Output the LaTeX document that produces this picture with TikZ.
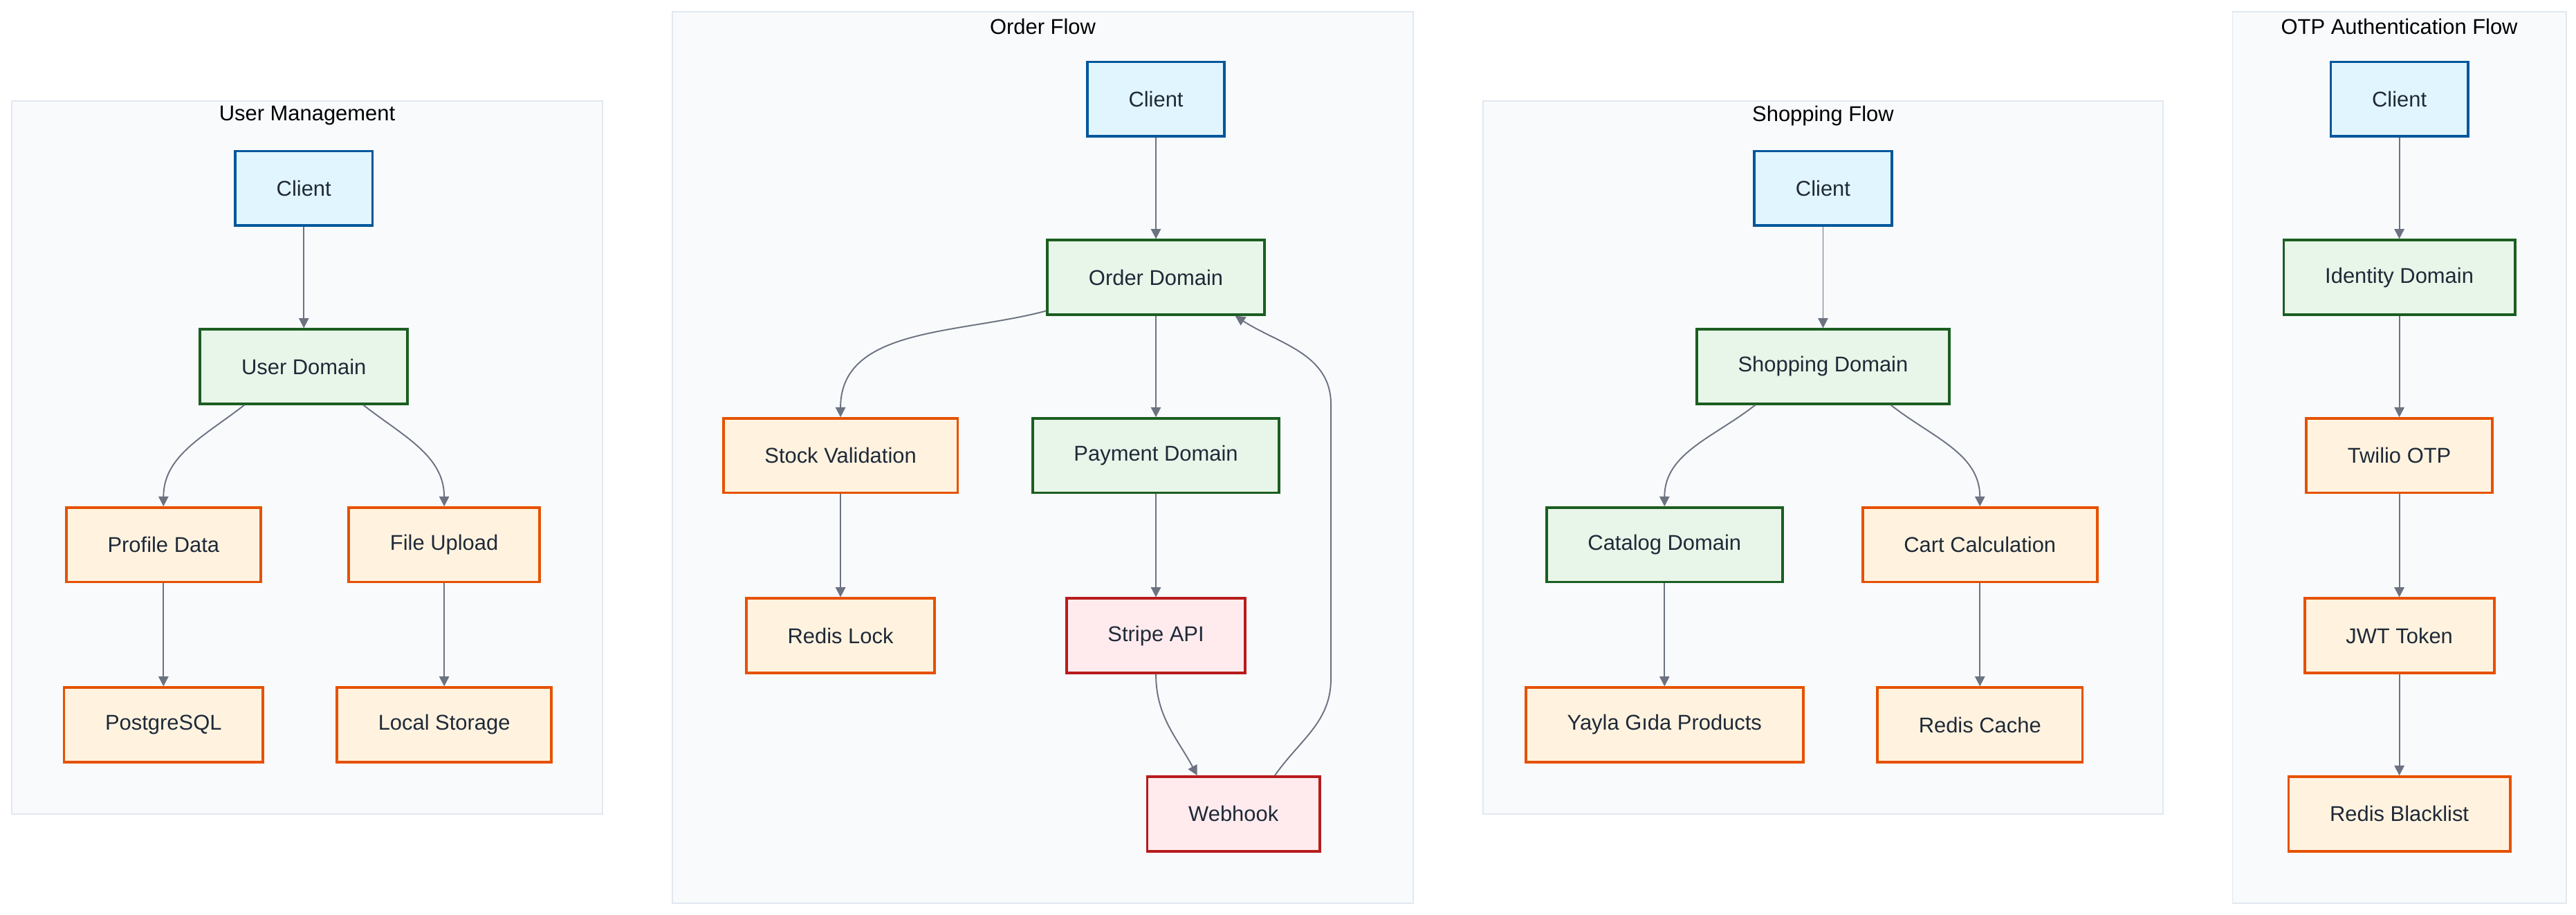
\documentclass[tikz,border=0pt]{standalone}
\usepackage{fontspec}
\setmainfont{Liberation Sans}
\usetikzlibrary{arrows.meta}
\definecolor{clientfill}{HTML}{E1F5FE}
\definecolor{clientline}{HTML}{01579B}
\definecolor{domfill}{HTML}{E8F5E9}
\definecolor{domline}{HTML}{1B5E20}
\definecolor{extfill}{HTML}{FFF3E0}
\definecolor{extline}{HTML}{E65100}
\definecolor{payfill}{HTML}{FFEBEE}
\definecolor{payline}{HTML}{B71C1C}
\definecolor{groupfill}{HTML}{F8FAFC}
\definecolor{groupline}{HTML}{E2E8F0}
\definecolor{edgecol}{HTML}{6B7280}
\definecolor{textcol}{HTML}{1F2937}

\begin{document}
\begin{tikzpicture}[x=1bp,y=1bp,
  box/.style={draw,line width=1.6bp,inner xsep=25bp,minimum height=45bp,
    font=\fontsize{13}{15}\selectfont,text=textcol},
  client/.style={box,fill=clientfill,draw=clientline},
  dom/.style={box,fill=domfill,draw=domline},
  ext/.style={box,fill=extfill,draw=extline},
  pay/.style={box,fill=payfill,draw=payline},
  group/.style={fill=groupfill,draw=groupline,line width=0.8bp},
  gtitle/.style={font=\fontsize{13}{15}\selectfont,text=black},
  arr/.style={draw=edgecol,line width=0.8bp,-{Triangle[length=6bp,width=6bp]}}]
\useasboundingbox[fill=white] (0,0) rectangle (1560,-553.8);

% groups
\draw[group] (7,-61) rectangle (365,-493);
\draw[group] (407,-7) rectangle (856,-547);
\draw[group] (898,-61) rectangle (1310,-493);
\draw[group] (1352,-7) rectangle (1554,-547);
\node[gtitle] (umtitle) at (186,-70) {User Management};
\node[gtitle] (oftitle) at (631.5,-16) {Order Flow};
\node[gtitle] (sftitle) at (1104,-70) {Shopping Flow};
\node[gtitle] (ottitle) at (1453,-16) {OTP Authentication Flow};

% user management
\node[client] (umclient) at (184,-114) {Client};
\node[dom] (umdomain) at (184,-222) {User Domain};
\node[ext] (umprofile) at (99,-330) {Profile Data};
\node[ext] (umupload) at (269,-330) {File Upload};
\node[ext] (umpostgres) at (99,-439) {PostgreSQL};
\node[ext] (umstorage) at (269,-439) {Local Storage};
\draw[arr] (umclient) -- (umdomain);
\draw[arr] ([xshift=-36bp]umdomain.south) to[out=-142,in=90] (umprofile.north);
\draw[arr] ([xshift=36bp]umdomain.south) to[out=-38,in=90] (umupload.north);
\draw[arr] (umprofile) -- (umpostgres);
\draw[arr] (umupload) -- (umstorage);

% order flow
\node[client] (ofclient) at (700,-60) {Client};
\node[dom] (ofdomain) at (700,-168) {Order Domain};
\node[ext] (ofstock) at (509,-276) {Stock Validation};
\node[dom] (ofpayment) at (700,-276) {Payment Domain};
\node[ext] (oflock) at (509,-385) {Redis Lock};
\node[pay] (ofstripe) at (700,-385) {Stripe API};
\node[pay] (ofhook) at (747,-493) {Webhook};
\draw[arr] (ofclient) -- (ofdomain);
\draw[arr] ([yshift=3bp]ofdomain.south west) to[out=195,in=90] (ofstock.north);
\draw[arr] (ofdomain) -- (ofpayment);
\draw[arr] (ofstock) -- (oflock);
\draw[arr] (ofpayment) -- (ofstripe);
\draw[arr] (ofstripe.south) to[out=-90,in=118] ([xshift=-22bp]ofhook.north);
\draw[arr] ([xshift=25bp]ofhook.north) to[out=55,in=-90] (806,-411) -- (806,-245)
  to[out=90,in=-33] ([xshift=48bp]ofdomain.south);

% shopping flow
\node[client] (sfclient) at (1104,-114) {Client};
\node[dom] (sfdomain) at (1104,-222) {Shopping Domain};
\node[dom] (sfcatalog) at (1008,-330) {Catalog Domain};
\node[ext] (sfcart) at (1199,-330) {Cart Calculation};
\node[ext] (sfproducts) at (1008,-439) {Yayla Gıda Products};
\node[ext] (sfcache) at (1199,-439) {Redis Cache};
\draw[arr] (sfclient) -- (sfdomain);
\draw[arr] ([xshift=-41bp]sfdomain.south) to[out=-142,in=90] (sfcatalog.north);
\draw[arr] ([xshift=41bp]sfdomain.south) to[out=-38,in=90] (sfcart.north);
\draw[arr] (sfcatalog) -- (sfproducts);
\draw[arr] (sfcart) -- (sfcache);

% otp authentication flow
\node[client] (otclient) at (1453,-60) {Client};
\node[dom] (otidentity) at (1453,-168) {Identity Domain};
\node[ext] (ottwilio) at (1453,-276) {Twilio OTP};
\node[ext] (otjwt) at (1453,-385) {JWT Token};
\node[ext] (otblacklist) at (1453,-493) {Redis Blacklist};
\draw[arr] (otclient) -- (otidentity);
\draw[arr] (otidentity) -- (ottwilio);
\draw[arr] (ottwilio) -- (otjwt);
\draw[arr] (otjwt) -- (otblacklist);
\end{tikzpicture}
\end{document}
